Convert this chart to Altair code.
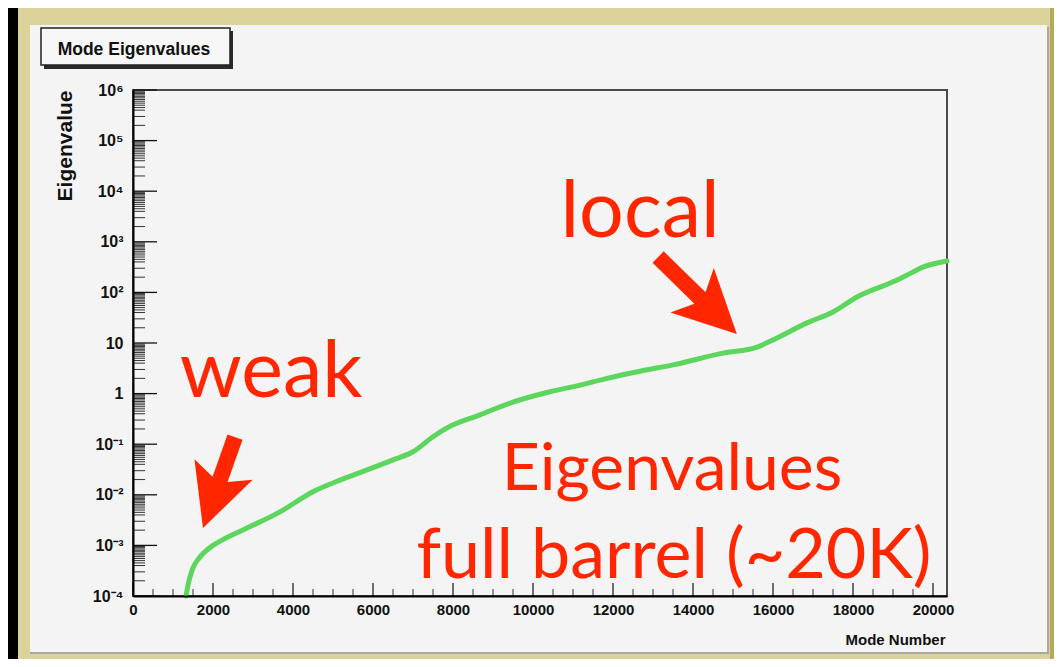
import altair as alt
import pandas as pd

# ---------------- data ----------------
mode_number = [1325, 1400, 1500, 1650, 1800, 2000, 2250, 2850, 3675, 4500, 5175,
               5850, 6500, 7000, 7500, 7850, 8675, 9500, 10350, 11175, 11850,
               12700, 13500, 14750, 15600, 16000, 16850, 17500, 18100, 19000,
               19350, 19750, 20350]
eigenvalue = [1.0e-4, 2.0e-4, 3.6e-4, 5.6e-4, 7.5e-4, 1.0e-3, 1.3e-3, 2.2e-3,
              4.6e-3, 1.15e-2, 1.95e-2, 3.1e-2, 4.9e-2, 7.1e-2, 0.14, 0.21, 0.38,
              0.68, 1.05, 1.47, 2.0, 2.8, 3.7, 6.3, 8.3, 11.5, 25, 41, 81, 162,
              220, 316, 417]

y_major_values = [1e-4, 1e-3, 1e-2, 1e-1, 1, 10, 1e2, 1e3, 1e4, 1e5, 1e6]
y_major_labels = ["10⁻⁴", "10⁻³", "10⁻²", "10⁻¹", "1", "10", "10²", "10³",
                  "10⁴", "10⁵", "10⁶"]
y_minor_mult = [2, 3, 4, 4.5, 5, 5.5, 6, 6.5, 7, 7.5, 8, 8.5, 9, 9.5]
x_major_values = [0, 2000, 4000, 6000, 8000, 10000, 12000, 14000, 16000, 18000, 20000]
x_minor_values = [v for v in range(500, 20001, 500) if v % 2000 != 0]

chart_title = "Mode Eigenvalues"
x_title = "Mode Number"
y_title = "Eigenvalue"

note_text = ["weak", "local"]
note_x = [3450, 12675]
note_y = [0.857, 1245]

label_text = ["Eigenvalues", "full barrel (~20K)"]
label_x = [13475, 13525]
label_y = [0.0124, 2.27e-4]

weak_arrow_x = [2150]
weak_arrow_y = [0.0175]
local_arrow_x = [14112]
local_arrow_y = [86.9]

# ---------------- chart ----------------
W, H = 814, 506
X_DOMAIN = [0, 20350]
Y_DOMAIN = [1e-4, 1e6]
RED = "#ff2600"
AXFONT = "Liberation Sans, Arial, sans-serif"

xs = alt.Scale(domain=X_DOMAIN, nice=False, zero=False)
ys = alt.Scale(type="log", domain=Y_DOMAIN, nice=False)

one = alt.Data(values=[{"k": 1}])


def box(x, x2, y, y2, **kw):
    return alt.Chart(one).mark_rect(**kw).encode(
        x=alt.value(x), x2=alt.value(x2), y=alt.value(y), y2=alt.value(y2))


tan = box(-115, 922, -84, 570, color="#dbd39b")
tan_edge = box(917, 922, -84, 570, color="#b3aa5c")
panel_shadow = box(-103, 916, -63, 564, color="#a9a9a0")
panel = box(-103, 914, -65, 562, color="#f4f4f4")
title_shadow = box(-89, 100, -59, -21, color="#2a2a2a")
title_box = box(-92, 97, -62, -25, color="#f7f7f7", stroke="#222222", strokeWidth=1.5)
title_text = alt.Chart(one).mark_text(
    text=chart_title, font=AXFONT, fontSize=17.5, fontWeight="bold", color="#111111",
    align="center", baseline="alphabetic"
).encode(x=alt.value(1), y=alt.value(-35))

frame = box(0, W, 0, H, fill="transparent", stroke="#4a4a4a", strokeWidth=2)

label_expr = "[" + ",".join("'%s'" % s for s in y_major_labels) + "][round(log(datum.value)/LN10) + 4]"

curve_df = pd.DataFrame({"mode": mode_number, "eig": eigenvalue})
curve = alt.Chart(curve_df).mark_line(
    color="#5cd65c", strokeWidth=5, interpolate="monotone", strokeCap="round"
).encode(
    x=alt.X("mode:Q", scale=xs, axis=alt.Axis(
        values=x_major_values, format="d", ticks=False, tickSize=0, grid=False, domain=True,
        domainColor="#000000", domainWidth=2, labelFont=AXFONT, labelFontSize=15,
        labelFontWeight="bold", labelColor="#111111", labelPadding=6, labelFlush=False,
        title=x_title, titleFont=AXFONT, titleFontSize=15, titleFontWeight="bold",
        titleColor="#111111", titleAnchor="end", titleAlign="right", titleX=812,
        titleY=48, titleBaseline="alphabetic", zindex=2)),
    y=alt.Y("eig:Q", scale=ys, axis=alt.Axis(
        values=y_major_values, labelExpr=label_expr, ticks=False, tickSize=0,
        grid=False, domain=True, domainColor="#000000", domainWidth=2,
        labelFont=AXFONT, labelFontSize=16, labelFontWeight="bold",
        labelColor="#111111", labelPadding=10, labelFlush=False,
        title=y_title, titleFont=AXFONT, titleFontSize=21, titleFontWeight="bold",
        titleColor="#111111", titleAnchor="end", titleAlign="right", titleAngle=270,
        titleX=-68, titleY=0, titleBaseline="middle", zindex=2)),
)

y_minor_values = [m * d for d in y_major_values[:-1] for m in y_minor_mult]
ymaj = alt.Chart(pd.DataFrame({"v": y_major_values})).mark_rule(
    color="#111111", strokeWidth=1.3
).encode(y=alt.Y("v:Q", scale=ys, axis=None), x=alt.value(0), x2=alt.value(24))
ymin = alt.Chart(pd.DataFrame({"v": y_minor_values})).mark_rule(
    color="#333333", strokeWidth=1
).encode(y=alt.Y("v:Q", scale=ys, axis=None), x=alt.value(0), x2=alt.value(12))
xmaj = alt.Chart(pd.DataFrame({"v": x_major_values})).mark_rule(
    color="#111111", strokeWidth=1.2
).encode(x=alt.X("v:Q", scale=xs, axis=None), y=alt.value(H - 13), y2=alt.value(H))
xmin = alt.Chart(pd.DataFrame({"v": x_minor_values})).mark_rule(
    color="#333333", strokeWidth=1
).encode(x=alt.X("v:Q", scale=xs, axis=None), y=alt.value(H - 7), y2=alt.value(H))

notes = alt.Chart(pd.DataFrame({"t": note_text, "x": note_x, "y": note_y})).mark_text(
    font="Lato", fontSize=79, color=RED, align="center", baseline="alphabetic"
).encode(x=alt.X("x:Q", scale=xs, axis=None), y=alt.Y("y:Q", scale=ys, axis=None), text="t:N")

label1 = alt.Chart(pd.DataFrame({"t": label_text[:1], "x": label_x[:1], "y": label_y[:1]})).mark_text(
    font="Lato", fontSize=66, color=RED, align="center", baseline="alphabetic"
).encode(x=alt.X("x:Q", scale=xs, axis=None), y=alt.Y("y:Q", scale=ys, axis=None), text="t:N")
label2 = alt.Chart(pd.DataFrame({"t": label_text[1:], "x": label_x[1:], "y": label_y[1:]})).mark_text(
    font="Lato", fontSize=70, color=RED, align="center", baseline="alphabetic"
).encode(x=alt.X("x:Q", scale=xs, axis=None), y=alt.Y("y:Q", scale=ys, axis=None), text="t:N")

weak_path = "M0,-1L0.64,0.285L0.165,0.067L0.165,1L-0.165,1L-0.165,0.067L-0.64,0.285Z"
local_path = "M0,-1L0.564,0.136L0.145,-0.064L0.145,1L-0.145,1L-0.145,-0.064L-0.564,0.136Z"

weak_arrow = alt.Chart(pd.DataFrame({"x": weak_arrow_x, "y": weak_arrow_y})).mark_point(
    shape=weak_path, filled=True, color=RED, opacity=1, size=9300, angle=199.4, strokeWidth=0
).encode(x=alt.X("x:Q", scale=xs, axis=None), y=alt.Y("y:Q", scale=ys, axis=None))
local_arrow = alt.Chart(pd.DataFrame({"x": local_arrow_x, "y": local_arrow_y})).mark_point(
    shape=local_path, filled=True, color=RED, opacity=1, size=12100, angle=134.3, strokeWidth=0
).encode(x=alt.X("x:Q", scale=xs, axis=None), y=alt.Y("y:Q", scale=ys, axis=None))

chart = alt.layer(
    tan, tan_edge, panel_shadow, panel, title_shadow, title_box, title_text,
    frame, ymin, ymaj, xmin, xmaj, curve, notes, label1, label2, weak_arrow, local_arrow
).resolve_axis(x="independent", y="independent").properties(
    width=W, height=H,
    padding={"left": 125, "top": 82, "right": 107, "bottom": 63},
    autosize=alt.AutoSizeParams(type="none"),
    background="#000000",
).configure_view(stroke=None)

chart.save("out.html", embed_options={"renderer": "svg", "actions": False})
